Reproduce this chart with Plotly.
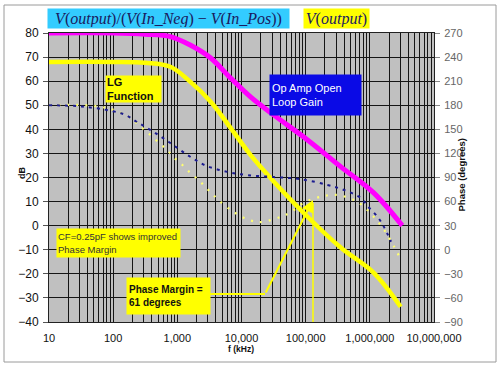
import plotly.graph_objects as go

# ---- data ----
# Op amp open loop gain (dB)
mag_f = [10, 100, 316, 776, 1585, 3311, 6761, 13800, 31600, 107000, 355000, 1150000, 3200000]
mag_db = [80, 80, 79.5, 78.5, 75, 69.6, 61.3, 53.5, 46, 35.6, 24.4, 13.6, 0]

# LG function (dB)
lg_f = [10, 100, 316, 776, 1585, 3311, 6761, 13800, 30200, 107000, 355000, 1150000, 3020000]
lg_db = [68, 68, 67.6, 66, 59.8, 51.5, 40.6, 29.4, 19, 3.7, -9.2, -19.6, -33.7]

# Phase, original (degrees) - blue dashed
ph1_f = [10, 32, 100, 155, 237, 422, 776, 1445, 2750, 6030, 12300, 31600, 83000,
         219000, 389000, 724000, 933000, 1320000, 1660000, 2140000]
ph1 = [180, 178.5, 172.5, 168, 159, 147, 133, 118, 105, 97, 93, 90.6, 88,
       80.7, 74.7, 64.5, 54, 41, 28.5, 10]

# Phase with CF=0.25pF (degrees) - yellow dotted
ph2_f = [10, 60, 155, 295, 500, 690, 870, 1200, 1580, 2140, 2750, 3630, 4680, 6760,
         8910, 12300, 16600, 21900, 40700, 58900, 93300, 170000, 295000, 562000,
         813000, 1150000, 1660000, 2400000, 2950000]
ph2 = [180, 178.5, 168, 150.6, 134.4, 124.5, 115.5, 105.6, 96, 87, 78, 68.4, 59.7, 49.8,
       43.5, 37.8, 35, 34.8, 41, 47, 58.5, 66, 68.4, 62,
       53.4, 41, 25, 3.6, -10]

decade_vals = [10, 100, 1000, 10000, 100000, 1000000, 10000000]
decade_labels = ["10", "100", "1,000", "10,000", "100,000", "1,000,000", "10,000,000"]

# x grid: decades plus 2..9 minor lines
tickvals, ticktext = [], []
for i, d in enumerate(decade_vals):
    tickvals.append(d)
    ticktext.append(decade_labels[i])
    if d < decade_vals[-1]:
        for m in range(2, 10):
            tickvals.append(m * d)
            ticktext.append("")

fig = go.Figure()
fig.add_trace(go.Scatter(x=ph2_f, y=ph2, yaxis="y2", mode="lines", hoverinfo="skip",
                         line=dict(color="#ffff70", width=2.2, dash="2px,7px", shape="spline")))
fig.add_trace(go.Scatter(x=ph1_f, y=ph1, yaxis="y2", mode="lines", hoverinfo="skip",
                         line=dict(color="#1c1c90", width=2, dash="3px,5px", shape="spline")))
fig.add_trace(go.Scatter(x=lg_f, y=lg_db, mode="lines", hoverinfo="skip",
                         line=dict(color="#ffff00", width=4.5, shape="spline")))
fig.add_trace(go.Scatter(x=mag_f, y=mag_db, mode="lines", hoverinfo="skip",
                         line=dict(color="#ff00ff", width=5, shape="spline")))

FONT = "Liberation Sans, Arial, sans-serif"


def px(x):
    return (x - 49) / 385.0


def py(y):
    return (322 - y) / 289.0


annotations = [
    # legend boxes
    dict(x=px(47), y=py(8), xref="paper", yref="paper", xanchor="left", yanchor="top",
         text="<i>V</i>(<i>output</i>)/(<i>V</i>(<i>In</i>_<i>Neg</i>) − <i>V</i>(<i>In</i>_<i>Pos</i>))",
         font=dict(family="Liberation Serif, Times New Roman, serif", size=16, color="#1a1a60"),
         bgcolor="#33ccff", showarrow=False, width=239, height=17, borderpad=1, align="center"),
    dict(x=px(303), y=py(8), xref="paper", yref="paper", xanchor="left", yanchor="top",
         text="<i>V</i>(<i>output</i>)",
         font=dict(family="Liberation Serif, Times New Roman, serif", size=16, color="#1a1a60"),
         bgcolor="#ffff00", showarrow=False, width=63, height=17, borderpad=1, align="center"),
    # text boxes
    dict(x=px(105), y=py(75), xref="paper", yref="paper", xanchor="left", yanchor="top",
         text="<b>LG<br>Function</b>", font=dict(family=FONT, size=11, color="#111"),
         bgcolor="#ffff00", showarrow=False, width=53, height=24, borderpad=1, align="left"),
    dict(x=px(269), y=py(74), xref="paper", yref="paper", xanchor="left", yanchor="top",
         text="Op Amp Open<br>Loop Gain", font=dict(family=FONT, size=11, color="white"),
         bgcolor="#0a0ae6", showarrow=False, width=87, height=36, borderpad=2, align="left"),
    dict(x=px(56), y=py(228), xref="paper", yref="paper", xanchor="left", yanchor="top",
         text="CF=0.25pF shows improved<br>Phase Margin", font=dict(family=FONT, size=9.5, color="#333"),
         bgcolor="#ffff00", showarrow=False, width=121, height=26, borderpad=1, align="left"),
    dict(x=px(126), y=py(277), xref="paper", yref="paper", xanchor="left", yanchor="top",
         text="<b>Phase Margin =<br>61 degrees</b>", font=dict(family=FONT, size=10, color="#111"),
         bgcolor="#ffff00", showarrow=False, width=79, height=32, borderpad=2, align="left"),
    # arrow to phase margin point
    dict(x=px(313), y=py(200), xref="paper", yref="paper", ax=-48, ay=94,
         text="", showarrow=True, arrowhead=2, arrowsize=1.2, arrowwidth=2, arrowcolor="#ffff00"),
    # axis titles
    dict(x=px(15), y=py(173), xref="paper", yref="paper", text="<b>dB</b>", textangle=-90,
         showarrow=False, font=dict(family=FONT, size=9, color="#111")),
    dict(x=px(468), y=py(175), xref="paper", yref="paper", text="<b>Phase (degrees)</b>", textangle=-90,
         showarrow=False, font=dict(family=FONT, size=9.5, color="#111")),
    dict(x=px(241), y=py(356), xref="paper", yref="paper", text="<b>f (kHz)</b>",
         showarrow=False, font=dict(family=FONT, size=8.5, color="#111")),
]

shapes = [
    # outer frame
    dict(type="rect", xref="paper", yref="paper", x0=px(4), x1=px(496), y0=py(362), y1=py(5),
         line=dict(color="#9a9a9a", width=1), layer="below"),
    # phase margin leader lines
    dict(type="line", xref="paper", yref="paper", x0=px(209), x1=px(265), y0=py(294), y1=py(294),
         line=dict(color="#ffff00", width=2)),
    dict(type="line", xref="paper", yref="paper", x0=px(313), x1=px(313), y0=py(203), y1=py(322),
         line=dict(color="#ffff00", width=1.5)),
]

fig.update_layout(
    width=500, height=366,
    margin=dict(l=49, r=66, t=33, b=44),
    paper_bgcolor="white", plot_bgcolor="#c0c0c0",
    showlegend=False,
    font=dict(family=FONT, color="#111"),
    xaxis=dict(type="log", range=[1, 7], tickvals=tickvals, ticktext=ticktext,
               showgrid=True, gridcolor="#151515", gridwidth=1, ticks="",
               tickfont=dict(size=11, color="#111"), ticklabelstandoff=6,
               showline=True, linecolor="#222", mirror=True, zeroline=False),
    yaxis=dict(range=[-40, 80], tick0=0, dtick=10, showgrid=True, gridcolor="#151515", gridwidth=1,
               ticks="outside", ticklen=5, tickcolor="#555", tickfont=dict(size=12, color="#111"),
               ticklabelstandoff=2, showline=True, linecolor="#222", mirror=True, zeroline=False),
    yaxis2=dict(overlaying="y", side="right", range=[-90, 270], tick0=0, dtick=30, showgrid=False,
                ticks="outside", ticklen=5, tickcolor="#888", tickfont=dict(size=11, color="#666"),
                ticklabelstandoff=2, zeroline=False),
    annotations=annotations,
    shapes=shapes,
)

fig.write_html("out.html")
